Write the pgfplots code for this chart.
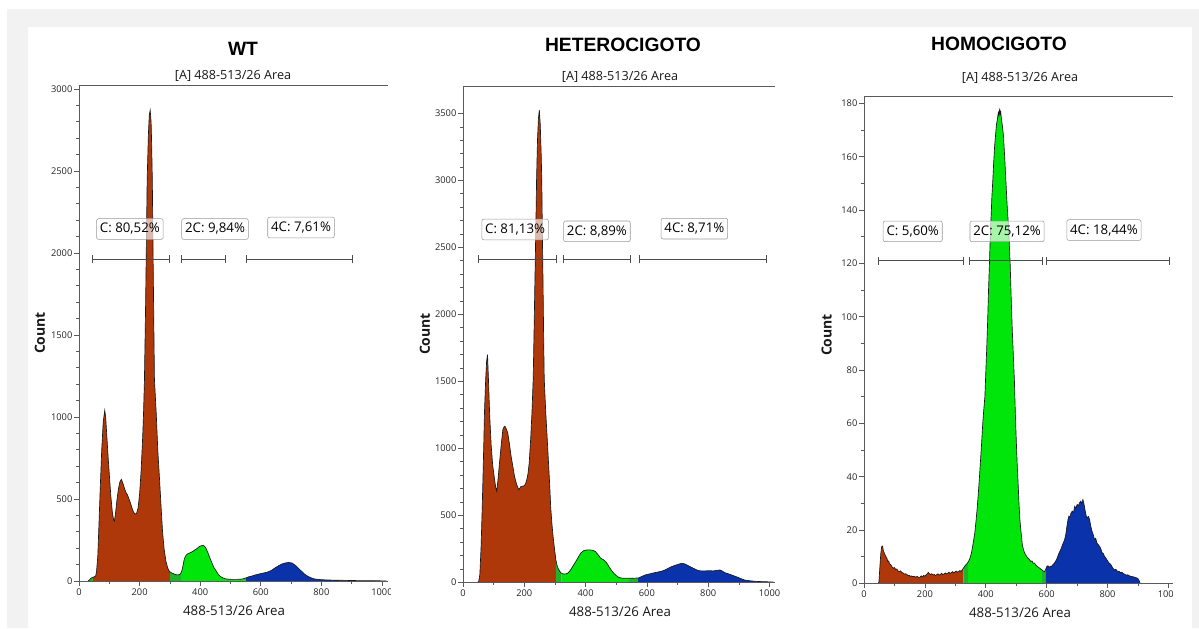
\documentclass[border=0pt]{standalone}
\usepackage{fontspec}
\setmainfont{Open Sans}
\newfontfamily\titlefont{Liberation Sans}
\usepackage{pgfplots}
\usepackage{pgfplotstable}
\pgfplotsset{compat=1.18}
\usetikzlibrary{arrows.meta}

\definecolor{cred}{RGB}{174,56,10}
\definecolor{cgreen}{RGB}{0,230,10}
\definecolor{cdgreen}{RGB}{30,180,40}
\definecolor{cblue}{RGB}{10,50,170}
\definecolor{cbg}{RGB}{242,242,242}
\definecolor{caxis}{RGB}{90,90,90}

\pgfplotstableread{
x y
30 0
35 8
40 18
45 22
47 24
50 25
55 30
58 60
62 150
66 350
70 560
75 800
80 970
85 1040
88 1000
92 880
96 760
100 650
105 520
110 420
114 375
117 365
121 420
125 490
130 560
135 605
140 620
145 595
150 565
155 540
160 525
165 500
170 475
175 445
180 420
185 408
190 412
195 445
200 530
205 670
210 870
213 1020
216 1225
220 1700
225 2445
229 2720
232 2840
235 2870
238 2800
240 2650
242 2445
245 1900
249 1230
255 1020
260 800
266 615
271 450
276 295
281 195
287 120
293 78
298 60
301 55
305 50
310 46
318 40
326 37
332 40
336 46
340 65
344 100
348 138
353 155
358 165
364 170
370 175
375 180
383 190
391 200
397 210
403 215
410 218
415 210
419 200
425 175
430 150
435 128
441 100
446 80
451 67
458 45
464 32
470 24
476 18
484 13
495 11
506 10
520 10
535 11
545 15
551 19
561 26
572 31
582 37
593 42
604 47
615 51
626 57
637 67
648 81
659 93
670 104
681 110
692 113
703 110
711 100
719 88
727 73
736 57
746 40
757 27
768 18
779 12
790 10
801 8
812 7
823 6
850 5
877 4
905 3
930 2
960 2
1000 1
1015 1
}\wt

\pgfplotstableread{
x y
45 0
51 2
55 60
59 267
62 500
65 767
68 1050
70 1267
74 1517
77 1650
80 1700
83 1517
87 1250
92 1017
97 870
103 767
107 705
110 680
114 760
119 890
124 1010
130 1140
134 1160
137 1165
141 1145
146 1115
151 1040
157 940
163 860
168 790
175 730
182 690
186 705
189 715
195 718
200 720
204 735
208 765
212 810
216 890
221 1080
225 1267
229 1517
232 1900
235 2300
238 2700
240 3003
243 3300
246 3460
249 3525
252 3420
255 3200
257 3003
259 2600
261 2250
263 1850
265 1517
270 1267
275 1060
279 890
283 720
286 565
290 440
294 340
299 240
303 167
307 125
310 105
315 85
319 72
322 67
324 64
330 62
336 63
341 67
346 78
351 92
359 122
368 155
376 187
384 217
390 230
395 237
403 241
411 242
420 240
426 236
432 230
440 208
449 180
457 170
465 155
471 137
476 117
484 90
492 67
500 50
508 37
516 32
524 30
535 30
541 30
546 30
560 31
571 32
573 32
584 44
595 55
605 60
616 67
630 74
643 80
651 85
659 92
670 105
681 117
689 124
697 130
705 136
714 142
722 138
730 130
740 118
751 105
760 95
768 87
778 85
789 85
800 86
808 86
816 85
827 88
838 92
846 84
854 72
865 64
876 55
886 46
897 37
908 26
919 17
930 13
941 10
955 7
973 5
991 4
1005 2
1015 1
}\het

\pgfplotstableread{
x y
47 0
49 0.5
52 6
55 11
58 13.8
61 14
63 12.5
66 11.5
69 10.7
72 10
75 9.5
78 8.2
81 8.4
84 7.3
88 7
92 6.2
96 5.7
100 5.9
104 5.2
108 5.4
112 4.6
116 4.4
120 4.7
124 4.1
128 3.9
132 3.5
136 3.6
140 3.4
144 2.9
148 3.1
152 2.6
156 2.8
160 2.5
165 2.7
170 2.3
175 2.6
180 2.2
184 2.3
188 2.8
192 2.4
196 3
200 2.6
204 3.2
208 3.6
211 4.1
214 3.7
218 3.3
222 3.6
227 3.1
231 3.4
235 2.9
239 3.3
243 3.6
247 3.1
251 3.4
255 3.8
259 3.2
263 3.6
267 3.9
271 3.5
275 3.8
279 4.2
283 3.7
287 4.1
291 4.4
295 3.9
299 4.3
303 4.6
307 4.2
311 4.5
315 4.8
319 4.4
323 5.2
326 5.6
329 6.1
333 6.8
337 7.2
342 8
346 8.8
350 10.2
353 11.5
357 14
361 16.8
364 19
368 23.5
372 28.5
375 33
379 39.5
382 45
386 52
390 60
394 66
397 70
399 76
403 88
406 98
409 110
412 120
415 131
418 139
420 145
423 151
426 158
429 164
432 168
435 172
438 174
441 176.5
443 175.5
445 177.5
447 176
449 177
451 174.5
454 172
458 168
462 160
466 151
470 142
474 135
477 128
480 120
484 105
487 95
491 84
494 76
497 64
500 54
503 45
506 38
509 30
512 24
515 20
517 18
520 14.5
524 12.5
528 11.3
532 10.5
536 9.8
540 9.3
544 8.8
548 8.2
552 8.4
556 7.5
560 7.6
564 6.8
568 6.5
572 6.1
577 5.7
581 5.3
585 5
589 4.6
593 4.4
597 5.3
600 6.3
604 6.6
608 6
612 6.4
615 6.3
619 6.8
623 7.3
627 7.9
632 8.8
636 10
640 11.2
644 12.1
648 13.2
652 14.5
655 15.3
659 16.4
663 18.5
666 21
670 23.9
673 25.2
676 24.8
680 26.4
684 27.1
688 26.5
692 28.9
696 28.2
700 29.6
704 29.1
708 30.2
712 30.8
715 29.9
719 31.4
722 30.1
726 27.5
730 25.2
733 24.6
737 25.1
741 23.9
745 21.4
749 19.5
753 18.2
757 16.4
761 16.9
765 15.1
769 14.6
774 13.8
778 12.9
782 11.5
786 11.2
790 10.1
794 9.5
798 8.8
802 8.1
806 7.5
810 7.2
814 6.4
818 5.6
823 5
827 5.3
831 4.7
835 4.5
839 4.4
843 4
847 4.2
851 3.7
856 3.4
861 3.1
866 3.2
871 2.9
876 2.6
883 2.5
888 2.3
894 2.1
899 1.9
903 1.2
907 0
}\hom

\tikzset{
  gate/.style={draw=black!70, line width=0.75bp, {Bar[width=6bp]}-{Bar[width=6bp]}},
  gbox/.style={draw=black!40, fill=white, fill opacity=0.65, text opacity=1,
    rounded corners=1.5bp, inner xsep=2.5bp, inner ysep=0bp, minimum height=15.5bp,
    font=\fontsize{10}{11}\selectfont},
}

\pgfplotsset{
  flowax/.style={
    scale only axis,
    anchor=south west,
    axis lines*=left,
    axis on top,
    axis line style={draw=caxis, line width=0.7bp},
    tick style={draw=caxis, line width=0.5bp},
    tick align=outside,
    major tick length=3.5bp,
    minor tick length=2bp,
    xmin=0, ymin=0,
    xtick={0,200,...,1000},
    minor x tick num=1,
    scaled ticks=false,
    tick label style={font=\fontsize{7}{8}\selectfont, text=black!85,
      /pgf/number format/assume math mode=true,
      /pgf/number format/1000 sep={}},
    yticklabel style={inner xsep=1.3bp},
    xticklabel style={inner ysep=2bp},
  },
  seg/.style={draw=none, fill=#1},
  outl/.style={draw=black!90, line width=0.5bp},
}

\begin{document}
\begin{tikzpicture}
\begin{scope}[x=0.75bp, y=-0.75bp]
  \path[use as bounding box, fill=white] (0,0) rectangle (1199,628);
  \fill[cbg] (7,9) rectangle (1199,628);
  \fill[white] (28,27) rectangle (1192,628);
  % titles
  \node[font=\titlefont\fontsize{14.5}{16}\selectfont\bfseries] at (243,49) {WT};
  \node[font=\titlefont\fontsize{14.5}{16}\selectfont\bfseries] at (623,45) {HETEROCIGOTO};
  \node[font=\titlefont\fontsize{14.5}{16}\selectfont\bfseries] at (999,43.5) {HOMOCIGOTO};
  % subtitles
  \node[font=\fontsize{9.5}{10}\selectfont, text=black!90] at (233,75.7) {[A] 488-513/26 Area};
  \node[font=\fontsize{9.5}{10}\selectfont, text=black!90] at (620,76.7) {[A] 488-513/26 Area};
  \node[font=\fontsize{9.5}{10}\selectfont, text=black!90] at (1020,77.7) {[A] 488-513/26 Area};
  % x labels
  \node[font=\fontsize{10}{11}\selectfont, text=black!90] at (234,611) {488-513/26 Area};
  \node[font=\fontsize{10}{11}\selectfont, text=black!90] at (620,612) {488-513/26 Area};
  \node[font=\fontsize{10}{11}\selectfont, text=black!90] at (1020,613) {488-513/26 Area};
  % y labels
  \node[font=\fontsize{10.5}{11}\selectfont\bfseries, text=black!90, rotate=90] at (40,333) {Count};
  \node[font=\fontsize{10.5}{11}\selectfont\bfseries, text=black!90, rotate=90] at (425,334) {Count};
  \node[font=\fontsize{10.5}{11}\selectfont\bfseries, text=black!90, rotate=90] at (826.7,335) {Count};
\end{scope}

% ---------------- WT
\begin{axis}[flowax, at={(59.25bp,-435.75bp)}, width=231.75bp, height=372bp,
  xmax=1020, ymax=3024, ytick={0,500,...,3000}, minor y tick num=4]
  \addplot[seg=cdgreen, restrict x to domain=30:47] table {\wt} \closedcycle;
  \addplot[seg=cred, restrict x to domain=47:301] table {\wt} \closedcycle;
  \addplot[seg=cdgreen, restrict x to domain=301:336] table {\wt} \closedcycle;
  \addplot[seg=cgreen, restrict x to domain=336:551] table {\wt} \closedcycle;
  \addplot[seg=cblue, restrict x to domain=551:905] table {\wt} \closedcycle;
  \addplot[seg=cdgreen, restrict x to domain=905:1015] table {\wt} \closedcycle;
  \addplot[outl] table {\wt};
  \draw[gate] (axis cs:44,1963) -- (axis cs:301,1963);
  \draw[gate] (axis cs:336,1963) -- (axis cs:484,1963);
  \draw[gate] (axis cs:551,1963) -- (axis cs:905,1963);
  \node[gbox] at (axis cs:168,2146) {C: 80,52\%};
  \node[gbox] at (axis cs:449,2146) {2C: 9,84\%};
  \node[gbox] at (axis cs:733,2155) {4C: 7,61\%};
  \draw[caxis, line width=0.7bp] (rel axis cs:0,1) -- (rel axis cs:1,1);
\end{axis}

% ---------------- HETEROCIGOTO
\begin{axis}[flowax, at={(347.25bp,-436.7bp)}, width=234bp, height=371.7bp,
  xmax=1018, ymax=3700, ytick={0,500,...,3500}, minor y tick num=4]
  \addplot[seg=cred, restrict x to domain=45:303] table {\het} \closedcycle;
  \addplot[seg=cdgreen, restrict x to domain=303:322] table {\het} \closedcycle;
  \addplot[seg=cgreen, restrict x to domain=322:541] table {\het} \closedcycle;
  \addplot[seg=cdgreen, restrict x to domain=541:571] table {\het} \closedcycle;
  \addplot[seg=cblue, restrict x to domain=571:991] table {\het} \closedcycle;
  \addplot[seg=cdgreen, restrict x to domain=991:1015] table {\het} \closedcycle;
  \addplot[outl] table {\het};
  \draw[gate] (axis cs:48,2413) -- (axis cs:308,2413);
  \draw[gate] (axis cs:325,2413) -- (axis cs:547,2413);
  \draw[gate] (axis cs:575,2413) -- (axis cs:991,2413);
  \node[gbox] at (axis cs:170,2634) {C: 81,13\%};
  \node[gbox] at (axis cs:437,2620) {2C: 8,89\%};
  \node[gbox] at (axis cs:755,2640) {4C: 8,71\%};
  \draw[caxis, line width=0.7bp] (rel axis cs:0,1) -- (rel axis cs:1,1);
\end{axis}

% ---------------- HOMOCIGOTO
\begin{axis}[flowax, at={(648bp,-437.5bp)}, width=231.75bp, height=364.95bp,
  xmax=1015, ymax=182.5, ytick={0,20,...,180}, minor y tick num=1]
  \addplot[seg=cred, restrict x to domain=47:326] table {\hom} \closedcycle;
  \addplot[seg=cdgreen, restrict x to domain=326:342] table {\hom} \closedcycle;
  \addplot[seg=cgreen, restrict x to domain=342:585] table {\hom} \closedcycle;
  \addplot[seg=cdgreen, restrict x to domain=585:597] table {\hom} \closedcycle;
  \addplot[seg=cblue, restrict x to domain=597:907] table {\hom} \closedcycle;
  \addplot[outl] table {\hom};
  \draw[gate] (axis cs:47,121) -- (axis cs:329,121);
  \draw[gate] (axis cs:346,121) -- (axis cs:587,121);
  \draw[gate] (axis cs:597,121) -- (axis cs:1005,121);
  \node[gbox] at (axis cs:160,132) {C: 5,60\%};
  \node[gbox] at (axis cs:470,132) {2C: 75,12\%};
  \node[gbox] at (axis cs:788,132.5) {4C: 18,44\%};
  \draw[caxis, line width=0.7bp] (rel axis cs:0,1) -- (rel axis cs:1,1);
\end{axis}

% screenshot crop edges that cut the last tick label in two panels
\begin{scope}[x=0.75bp, y=-0.75bp]
  \fill[white] (390.5,586) rectangle (400,600);
  \fill[white] (1172.5,586) rectangle (1185,600);
\end{scope}
\end{tikzpicture}
\end{document}
